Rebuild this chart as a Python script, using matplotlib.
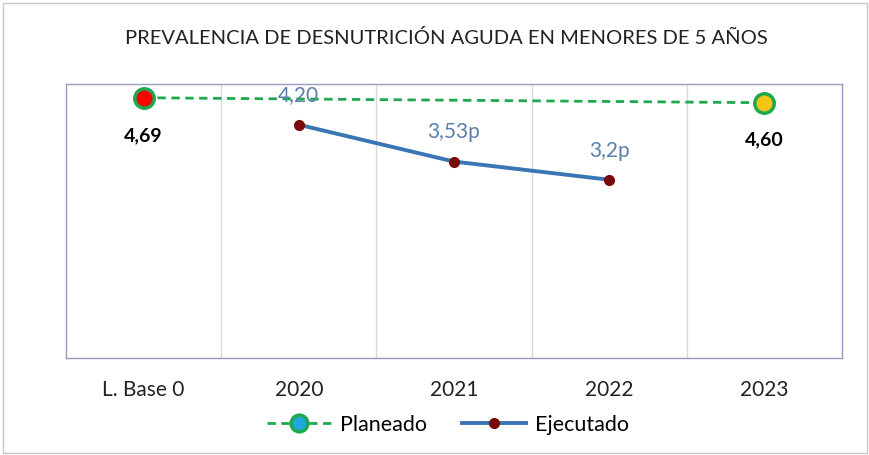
import numpy as np
import matplotlib.pyplot as plt
from matplotlib.patches import Rectangle
from matplotlib.lines import Line2D

categories = ["L. Base 0", "2020", "2021", "2022", "2023"]
planeado = [4.69, np.nan, np.nan, np.nan, 4.60]
planeado_labels = ["4,69", "", "", "", "4,60"]
ejecutado = [np.nan, 4.20, 3.53, 3.2, np.nan]
ejecutado_labels = ["", "4,20", "3,53p", "3,2p", ""]

plt.rcParams['font.family'] = ['Lato', 'DejaVu Sans']

fig = plt.figure(figsize=(8.7, 4.55), dpi=100)
ax = fig.add_axes([66 / 870, 1 - 358 / 455, 776 / 870, 274 / 455])

x = np.arange(len(categories))
green = "#1FA84F"

# planeado: only the two known points, joined by a dashed line
p = np.array(planeado)
mask = ~np.isnan(p)
ax.plot(x[mask], p[mask], ls=(0, (3, 2)), color=green, lw=2, zorder=3)
ax.plot(x[0], p[0], marker="o", ms=14, mfc="red", mec=green, mew=2.5, zorder=4)
ax.plot(x[4], p[4], marker="o", ms=14, mfc="#F5C518", mec=green, mew=2.5, zorder=4)
for i in x[mask]:
    ax.annotate(planeado_labels[i], (i, p[i]), xytext=(0, -27), textcoords="offset points",
                ha="center", va="center", fontsize=14, fontweight="bold", color="black")

e = np.array(ejecutado)
m2 = ~np.isnan(e)
ax.plot(x[m2], e[m2], color="#3A75B5", lw=2.8, marker="o", ms=7,
        mfc="#7A0A0A", mec="#7A0A0A", zorder=3)
for i in x[m2]:
    ax.annotate(ejecutado_labels[i], (i, e[i]), xytext=(0, 21), textcoords="offset points",
                ha="center", va="center", fontsize=15, color="#5A7FAA")

ax.set_xlim(-0.5, len(categories) - 0.5)
ax.set_ylim(-0.04, 4.94)
ax.set_yticks([])
ax.set_xticks(x)
ax.set_xticklabels(categories, fontsize=15, color="#222222")
ax.tick_params(axis="x", length=0, pad=16)
for b in np.arange(0.5, len(categories) - 1, 1):
    ax.axvline(b, color="#D9D9D9", lw=1, zorder=1)
for s in ax.spines.values():
    s.set_color("#9A9AC0")
    s.set_linewidth(1)

fig.text(446 / 870, 1 - 38 / 455, "PREVALENCIA DE DESNUTRICIÓN AGUDA EN MENORES DE 5 AÑOS",
         ha="center", va="center", fontsize=14.5, color="#222222")

# legend
h1 = Line2D([], [], ls=(0, (3, 2)), color=green, lw=2, marker="o", ms=12,
            mfc="#1EA7E0", mec=green, mew=2.5)
h2 = Line2D([], [], color="#3A75B5", lw=2.8, marker="o", ms=7, mfc="#7A0A0A", mec="#7A0A0A")
fig.legend([h1, h2], ["Planeado", "Ejecutado"], loc="center", bbox_to_anchor=(448 / 870, 1 - 425 / 455),
           ncol=2, frameon=False, fontsize=15.5, handlelength=3.0, columnspacing=1.6, handletextpad=0.4)

fig.patches.append(Rectangle((0.004, 0.004), 0.992, 0.99, transform=fig.transFigure,
                             fill=False, ec="#C8C8C8", lw=1))

fig.savefig("out.png", dpi=100)
